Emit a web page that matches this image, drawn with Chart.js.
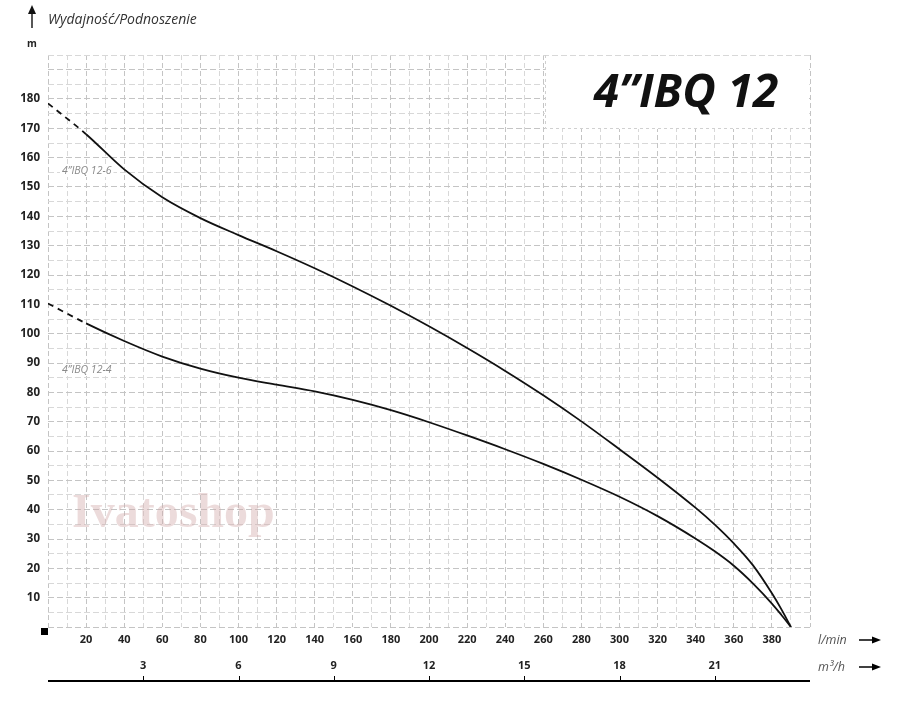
<!DOCTYPE html>
<html>
<head>
<meta charset="utf-8">
<script src="https://cdn.jsdelivr.net/npm/chart.js@4.4.1/dist/chart.umd.min.js"></script>
<style>
  html, body { margin: 0; padding: 0; background: #fff; }
  #wrap { width: 900px; height: 706px; }
</style>
</head>
<body>
<div id="wrap"><canvas id="pumpChart" width="900" height="706"></canvas></div>
<script>
// Wydajność (l/min) i podnoszenie (m)
const flow = [0, 20, 40, 60, 80, 100, 120, 140, 160, 180, 200, 220, 240, 260, 280, 300, 320, 340, 350, 360, 370, 380, 385, 390];
const head126 = [178.5, 168, 156, 146.5, 139.4, 133.6, 128.1, 122.3, 116.1, 109.5, 102.5, 95.1, 87.3, 79, 70.1, 60.6, 50.9, 40.6, 34.9, 28.5, 21.1, 11.5, 6, 0];
const head124 = [110.3, 103.5, 97.5, 92.2, 88.1, 85, 82.6, 80.3, 77.4, 73.9, 69.8, 65.3, 60.6, 55.6, 50.2, 44.4, 37.8, 30.1, 25.8, 20.9, 14.9, 8, 4.1, 0];
const m3hTicks = [3, 6, 9, 12, 15, 18, 21];
const seriesNames = ["4”IBQ 12-6", "4”IBQ 12-4"];

// pierwszy odcinek (0-20 l/min) linią przerywaną
const dashFirst = {
  borderDash: ctx => (ctx.p0DataIndex === 0 ? [6, 5] : undefined),
};

const extras = {
  id: "extras",
  beforeDatasetsDraw(chart) {
    const { ctx, chartArea } = chart;
    ctx.save();
    // białe pole pod tytułem
    ctx.fillStyle = "#fff";
    ctx.fillRect(545, chartArea.top + 1, chartArea.right - 546, 128 - chartArea.top);
    ctx.strokeStyle = "#d0d0d0";
    ctx.setLineDash([3, 3]);
    ctx.lineWidth = 1;
    ctx.beginPath();
    ctx.moveTo(545.5, chartArea.top);
    ctx.lineTo(545.5, 128.5);
    ctx.lineTo(chartArea.right, 128.5);
    ctx.stroke();
    ctx.setLineDash([]);

    // znak wodny
    ctx.fillStyle = "rgba(210, 170, 170, 0.42)";
    ctx.font = "bold 48px 'Liberation Serif'";
    ctx.textBaseline = "middle";
    ctx.textAlign = "left";
    ctx.fillText("Ivatoshop", 72, 515);

    // opisy krzywych
    ctx.font = "italic 10.5px 'Open Sans'";
    const pos = [171, 370];
    seriesNames.forEach((name, i) => {
      const w = ctx.measureText(name).width;
      ctx.fillStyle = "#fff";
      ctx.fillRect(60, pos[i] - 6, w + 4, 12);
      ctx.fillStyle = "#8a8a8a";
      ctx.fillText(name, 62, pos[i]);
    });
    ctx.restore();
  },
  afterDraw(chart) {
    const { ctx, chartArea, scales } = chart;
    ctx.save();
    ctx.fillStyle = "#111";
    ctx.strokeStyle = "#111";

    // tytuł modelu
    ctx.font = "italic bold 46px 'Open Sans'";
    ctx.textAlign = "center";
    ctx.textBaseline = "middle";
    ctx.fillText("4”IBQ 12", 686, 94);

    // oś Y - strzałka i opis
    ctx.lineWidth = 1.4;
    ctx.beginPath();
    ctx.moveTo(32, 28);
    ctx.lineTo(32, 12);
    ctx.stroke();
    ctx.beginPath();
    ctx.moveTo(32, 5);
    ctx.lineTo(28, 14);
    ctx.lineTo(36, 14);
    ctx.closePath();
    ctx.fill();
    ctx.font = "italic 14px 'Open Sans'";
    ctx.textAlign = "left";
    ctx.fillStyle = "#333";
    ctx.fillText("Wydajność/Podnoszenie", 48, 20);
    ctx.font = "bold 10px 'Open Sans'";
    ctx.fillStyle = "#222";
    ctx.textAlign = "center";
    ctx.fillText("m", 32, 44);

    // kwadracik w początku układu
    ctx.fillStyle = "#000";
    ctx.fillRect(41, 628, 7, 7);

    // jednostki osi X ze strzałkami
    ctx.font = "italic 12.5px 'Open Sans'";
    ctx.fillStyle = "#555";
    ctx.textAlign = "left";
    ctx.fillText("l/min", 818, 640);
    ctx.fillText("m³/h", 818, 667);
    [640, 667].forEach(y => {
      ctx.strokeStyle = "#000";
      ctx.lineWidth = 1.5;
      ctx.beginPath();
      ctx.moveTo(859, y);
      ctx.lineTo(874, y);
      ctx.stroke();
      ctx.fillStyle = "#000";
      ctx.beginPath();
      ctx.moveTo(881, y);
      ctx.lineTo(872, y - 3.5);
      ctx.lineTo(872, y + 3.5);
      ctx.closePath();
      ctx.fill();
    });

    // druga oś (m3/h): linia bazowa i kreski
    const x2 = scales.x2;
    const baseY = 681;
    ctx.strokeStyle = "#000";
    ctx.lineWidth = 2;
    ctx.beginPath();
    ctx.moveTo(chartArea.left, baseY);
    ctx.lineTo(chartArea.right, baseY);
    ctx.stroke();
    ctx.lineWidth = 1;
    m3hTicks.forEach(v => {
      const px = Math.round(x2.getPixelForValue(v)) + 0.5;
      ctx.beginPath();
      ctx.moveTo(px, baseY);
      ctx.lineTo(px, baseY - 5);
      ctx.stroke();
    });
    ctx.restore();
  },
};

const gridColor = ctx => (ctx.tick && ctx.tick.value % 20 === 0 ? "#c4c4c4" : "#d8d8d8");
const hGridColor = ctx => (ctx.tick && ctx.tick.value % 10 === 0 ? "#c4c4c4" : "#d8d8d8");
const tickFont = { family: "'Open Sans'", size: 11, weight: "bold" };

const chart = new Chart(document.getElementById("pumpChart"), {
  type: "line",
  data: {
    datasets: [
      {
        label: seriesNames[0],
        data: flow.map((q, i) => ({ x: q, y: head126[i] })),
        segment: dashFirst,
      },
      {
        label: seriesNames[1],
        data: flow.map((q, i) => ({ x: q, y: head124[i] })),
        segment: dashFirst,
      },
    ],
  },
  options: {
    responsive: false,
    animation: false,
    layout: { padding: { top: 55, right: 90, bottom: 23, left: 0 } },
    elements: {
      line: { borderColor: "#111", borderWidth: 1.8, cubicInterpolationMode: "monotone" },
      point: { radius: 0 },
    },
    plugins: {
      legend: { display: false },
      tooltip: { enabled: false },
    },
    scales: {
      x: {
        type: "linear",
        position: "bottom",
        weight: 0,
        min: 0,
        max: 400,
        afterFit: s => { s.height = 26; },
        grid: { color: gridColor, lineWidth: 1, drawTicks: false },
        border: { display: false, dash: [5, 3] },
        ticks: {
          stepSize: 10,
          autoSkip: false,
          maxRotation: 0,
          padding: 6,
          color: "#222",
          font: tickFont,
          callback: v => (v % 20 === 0 && v > 0 && v < 400 ? v : ""),
        },
      },
      x2: {
        type: "linear",
        position: "bottom",
        weight: 1,
        min: 0,
        max: 24,
        afterFit: s => { s.height = 30; },
        grid: { display: false, drawTicks: false },
        border: { display: false },
        ticks: {
          stepSize: 3,
          autoSkip: false,
          maxRotation: 0,
          padding: 6,
          color: "#222",
          font: tickFont,
          callback: v => (m3hTicks.includes(v) ? v : ""),
        },
      },
      y: {
        min: 0,
        max: 195,
        afterFit: s => { s.width = 48; },
        grid: { color: hGridColor, lineWidth: 1, drawTicks: false },
        border: { display: false, dash: [6, 3] },
        ticks: {
          stepSize: 5,
          autoSkip: false,
          padding: 8,
          color: "#222",
          font: { family: "'Open Sans'", size: 11.5, weight: "bold" },
          callback: v => (v % 10 === 0 && v > 0 && v <= 180 ? v : ""),
        },
      },
    },
  },
  plugins: [extras],
});
</script>
</body>
</html>
